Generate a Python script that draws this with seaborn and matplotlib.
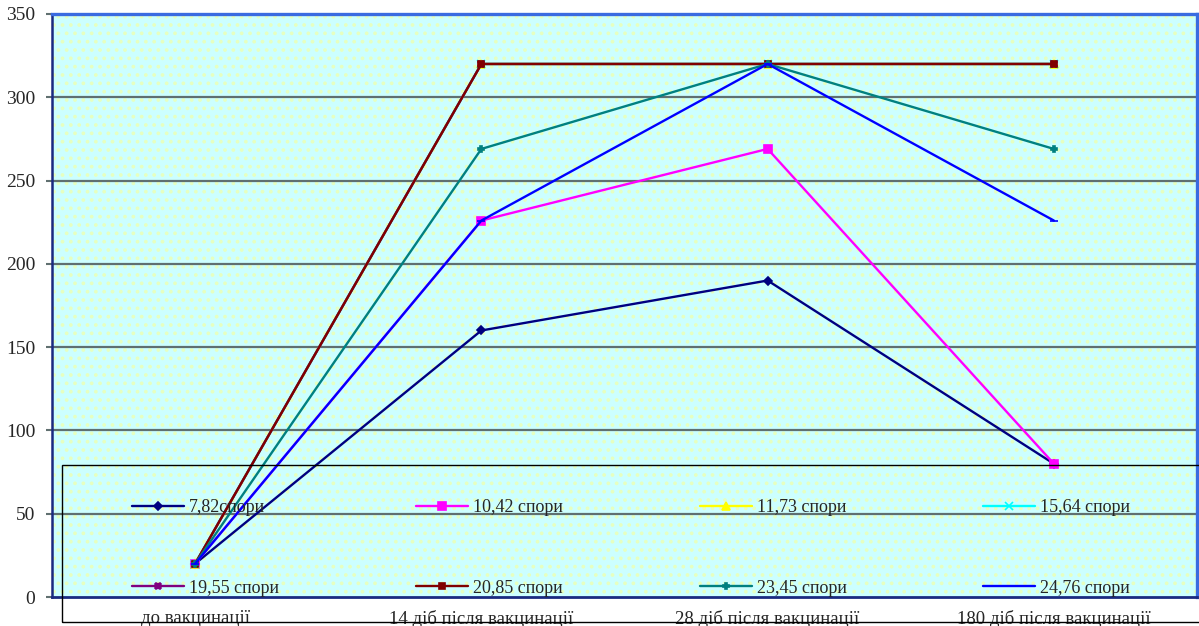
import numpy as np
import pandas as pd
import matplotlib
matplotlib.use("Agg")
import matplotlib.pyplot as plt
from matplotlib.patches import Rectangle
import seaborn as sns

categories = ["до вакцинації", "14 діб після вакцинації", "28 діб після вакцинації", "180 діб після вакцинації"]
series_names = ["7,82спори", "10,42 спори", "11,73 спори", "15,64 спори",
                "19,55 спори", "20,85 спори", "23,45 спори", "24,76 спори"]
s_782 = [20, 160, 190, 80]
s_1042 = [20, 226, 269, 80]
s_1173 = [20, 320, 320, 320]
s_1564 = [20, 320, 320, 320]
s_1955 = [20, 320, 320, 320]
s_2085 = [20, 320, 320, 320]
s_2345 = [20, 269, 320, 269]
s_2476 = [20, 226, 320, 226]
series_values = [s_782, s_1042, s_1173, s_1564, s_1955, s_2085, s_2345, s_2476]
y_ticks = [0, 50, 100, 150, 200, 250, 300, 350]

colors = ["#000080", "#FF00FF", "#FFFF00", "#00FFFF", "#800080", "#800000", "#008080", "#0000FF"]
markers = ["D", "s", "^", "x", "X", "s", "P", "_"]
msizes = [4.5, 5.5, 5.5, 5.5, 5, 5, 5, 5.5]

sns.set_style("white")
plt.rcParams["font.family"] = ["Liberation Serif", "DejaVu Serif"]
plt.rcParams["hatch.linewidth"] = 1.5

fig = plt.figure(figsize=(11.99, 6.26), dpi=100)
ax = fig.add_axes([52/1199, 29/626, (1197-52)/1199, (597-14)/626])
ax.set_facecolor("#CCFFFF")
ax.add_patch(Rectangle((0, 0), 1, 1, transform=ax.transAxes, facecolor="none",
                       edgecolor="#E6FFC0", lw=0, hatch="..", zorder=0.3))

x_idx = np.arange(len(categories))
for name, vals, c, m, ms in zip(series_names, series_values, colors, markers, msizes):
    sns.lineplot(x=x_idx, y=vals, color=c, marker=m, markersize=ms, markeredgecolor=c,
                 markeredgewidth=1.2, linewidth=1.7, label=name, ax=ax, zorder=3)

handles, labels = ax.get_legend_handles_labels()
if ax.get_legend() is not None:
    ax.get_legend().remove()

ax.set_xlim(-0.5, len(categories) - 0.5)
ax.set_ylim(0, 350)
ax.set_yticks(y_ticks)
ax.set_yticklabels([str(v) for v in y_ticks], fontsize=14)
ax.set_xticks(x_idx)
ax.set_xticklabels(categories, fontsize=13.5)
ax.set_xticks(np.arange(-0.5, len(categories)), minor=True)
ax.tick_params(axis="x", which="major", length=0, pad=9.5)
ax.tick_params(axis="x", which="minor", length=5, width=1.2, color="#404040", direction="out")
ax.tick_params(axis="y", which="major", length=4, width=1.5, color="#607070", pad=8, left=True)
ax.set_xlabel("")
ax.set_ylabel("")
for v in y_ticks[1:-1]:
    ax.axhline(v, color="#5F7070", lw=1.6, zorder=1)

ax.spines["left"].set_color("#1A2A80")
ax.spines["left"].set_linewidth(1.8)
ax.spines["bottom"].set_color("#1A2A80")
ax.spines["bottom"].set_linewidth(2.0)
ax.spines["top"].set_color("#3A6BE0")
ax.spines["top"].set_linewidth(2.4)
ax.spines["right"].set_color("#3A6BE0")
ax.spines["right"].set_linewidth(2.4)

# legend frame
fig.add_artist(Rectangle((62/1199, 4/626), 1.2, (622-465)/626, transform=fig.transFigure,
                         fill=False, edgecolor="black", lw=1.0, zorder=5))

col_x = [132, 416, 700, 983]
yc = (626 - 548) / 626
for i in range(4):
    hs = [handles[i], handles[i + 4]]
    ls = [labels[i], labels[i + 4]]
    leg = fig.legend(hs, ls, loc="center left", bbox_to_anchor=(col_x[i]/1199, yc),
                     frameon=False, fontsize=13, handlelength=2.9, handletextpad=0.25,
                     borderpad=0, borderaxespad=0, labelspacing=3.5)
    leg.set_zorder(6)

fig.savefig("out.png", dpi=100)
